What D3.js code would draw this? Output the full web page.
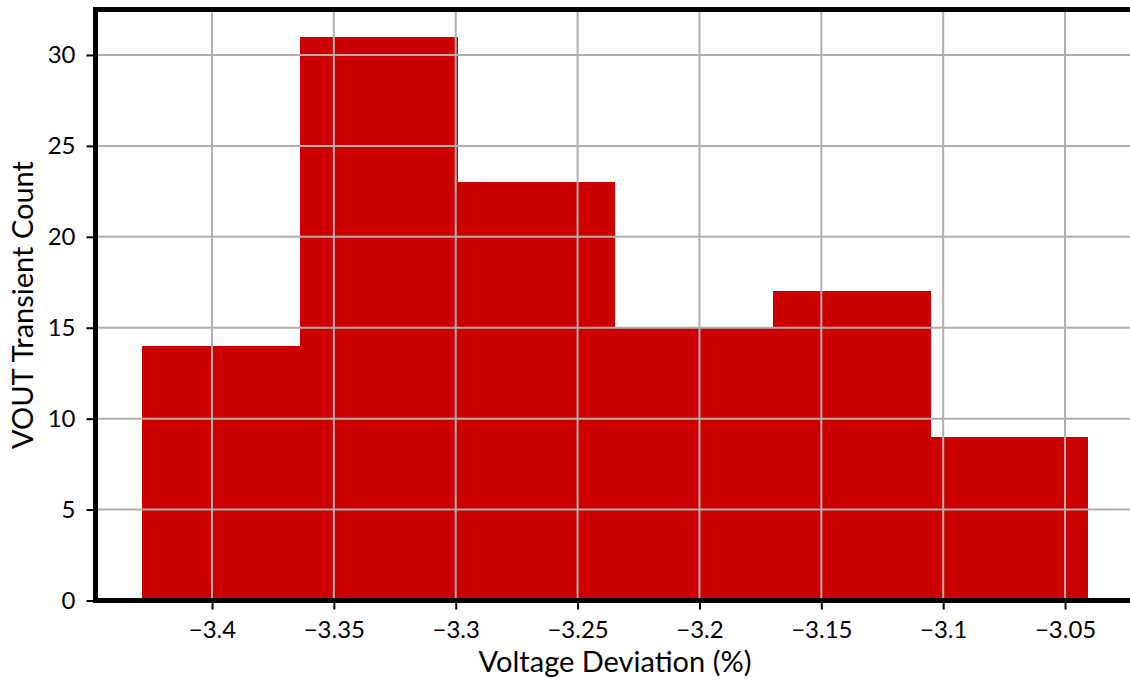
<!DOCTYPE html>
<html>
<head>
<meta charset="utf-8">
<script src="https://cdn.jsdelivr.net/npm/d3@7"></script>
<style>
  html, body { margin: 0; padding: 0; background: #fff; }
  svg { display: block; }
  text { font-family: Lato, "Open Sans", sans-serif; fill: #000; }
</style>
</head>
<body>
<svg id="chart" width="1130" height="684"></svg>
<script>
// Histogram bin edges (voltage deviation, %) and counts per bin
const binEdges = [-3.4286, -3.3639, -3.2992, -3.2345, -3.1698, -3.1051, -3.0404];
const counts = [14, 31, 23, 15, 17, 9];
const xTicks = [-3.4, -3.35, -3.3, -3.25, -3.2, -3.15, -3.1, -3.05];
const yTicks = [0, 5, 10, 15, 20, 25, 30];
const xLabel = "Voltage Deviation (%)";
const yLabel = "VOUT Transient Count";

const bins = counts.map((c, i) => ({ x0: binEdges[i], x1: binEdges[i + 1], count: c }));

const svg = d3.select("#chart");
const plot = { left: 95.5, right: 1135, top: 9.5, bottom: 600.5 };

const x = d3.scaleLinear().domain([-3.4478, -3.0213]).range([plot.left, plot.right]);
const y = d3.scaleLinear().domain([0, 32.5]).range([plot.bottom, plot.top]);

const fmt = d => d3.format("")(d).replace("-", "\u2212");

// bars (edges snapped so neighbouring bins meet without seams)
svg.append("g").attr("shape-rendering", "crispEdges")
  .selectAll("rect").data(bins).join("rect")
  .attr("x", d => Math.round(x(d.x0)))
  .attr("width", d => Math.round(x(d.x1)) - Math.round(x(d.x0)))
  .attr("y", d => Math.round(y(d.count)))
  .attr("height", d => Math.round(y(0)) - Math.round(y(d.count)))
  .attr("fill", "#cc0000");

// grid drawn over the bars
const grid = svg.append("g").attr("stroke", "#b0b0b0").attr("stroke-width", 2);
grid.selectAll("line.v").data(xTicks).join("line").attr("class", "v")
  .attr("x1", d => x(d)).attr("x2", d => x(d))
  .attr("y1", plot.top).attr("y2", plot.bottom);
grid.selectAll("line.h").data(yTicks).join("line").attr("class", "h")
  .attr("x1", plot.left).attr("x2", plot.right)
  .attr("y1", d => y(d)).attr("y2", d => y(d));

// axes
const xAxis = svg.append("g")
  .attr("transform", `translate(0,${plot.bottom})`)
  .call(d3.axisBottom(x).tickValues(xTicks).tickFormat(fmt).tickSize(9).tickPadding(11));
const yAxis = svg.append("g")
  .attr("transform", `translate(${plot.left},0)`)
  .call(d3.axisLeft(y).tickValues(yTicks).tickFormat(fmt).tickSize(9).tickPadding(11));

[xAxis, yAxis].forEach(a => {
  a.select(".domain").remove();
  a.selectAll(".tick line").attr("stroke", "#000").attr("stroke-width", 2);
  a.selectAll(".tick text").style("font-size", "24px").attr("fill", "#000");
});

// spines (left, top, bottom)
const spine = svg.append("g").attr("stroke", "#000").attr("stroke-width", 5).attr("fill", "none");
spine.append("line").attr("x1", plot.left).attr("x2", plot.left).attr("y1", plot.top - 2.5).attr("y2", plot.bottom + 2.5);
spine.append("line").attr("x1", plot.left - 2.5).attr("x2", plot.right).attr("y1", plot.top).attr("y2", plot.top);
spine.append("line").attr("x1", plot.left - 2.5).attr("x2", plot.right).attr("y1", plot.bottom).attr("y2", plot.bottom);

// axis labels
svg.append("text")
  .attr("x", 615).attr("y", 672)
  .attr("text-anchor", "middle")
  .style("font-size", "29px")
  .text(xLabel);
svg.append("text")
  .attr("transform", `translate(33,${(plot.top + plot.bottom) / 2}) rotate(-90)`)
  .attr("text-anchor", "middle")
  .style("font-size", "29px")
  .text(yLabel);
</script>
</body>
</html>
